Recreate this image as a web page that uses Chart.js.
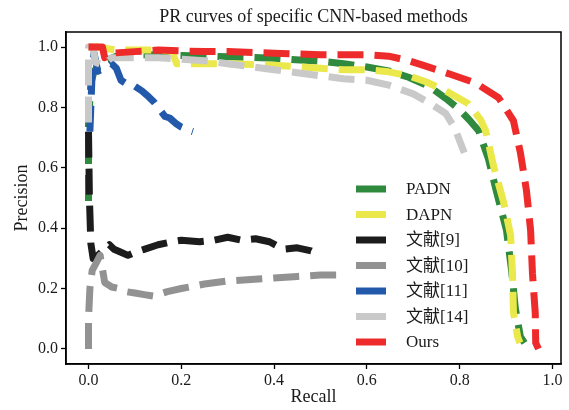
<!DOCTYPE html>
<html>
<head>
<meta charset="utf-8">
<script src="https://cdn.jsdelivr.net/npm/chart.js@4.4.1/dist/chart.umd.min.js"></script>
<style>
html,body{margin:0;padding:0;background:#fff;}
#wrap{width:569px;height:410px;position:relative;}
</style>
</head>
<body>
<div id="wrap"><canvas id="c" width="569" height="410"></canvas></div>
<script>
const chartTitle = "PR curves of specific CNN-based methods";
const seriesNames = ["PADN", "DAPN", "文献[9]", "文献[10]", "文献[11]", "文献[14]", "Ours"];
const xTicks = [0.0, 0.2, 0.4, 0.6, 0.8, 1.0];
const yTicks = [0.0, 0.2, 0.4, 0.6, 0.8, 1.0];

const padnR = [0.0, 0.0, 0.005, 0.012, 0.03, 0.06, 0.1, 0.2, 0.3, 0.4, 0.5, 0.55, 0.6, 0.647, 0.69, 0.733, 0.77, 0.798, 0.82, 0.841, 0.862, 0.88, 0.901, 0.912, 0.92, 0.931, 0.94];
const padnP = [0.49, 0.75, 0.88, 0.92, 0.95, 0.97, 0.975, 0.972, 0.968, 0.963, 0.953, 0.945, 0.934, 0.921, 0.9, 0.871, 0.83, 0.795, 0.76, 0.723, 0.63, 0.518, 0.393, 0.26, 0.135, 0.04, 0.02];

const dapnR = [0.0, 0.02, 0.06, 0.1, 0.15, 0.18, 0.19, 0.22, 0.3, 0.4, 0.5, 0.55, 0.6, 0.647, 0.69, 0.727, 0.77, 0.819, 0.845, 0.856, 0.873, 0.895, 0.91, 0.914, 0.916, 0.925, 0.93];
const dapnP = [1.0, 1.0, 0.99, 0.99, 0.99, 0.985, 0.945, 0.945, 0.945, 0.94, 0.93, 0.925, 0.925, 0.918, 0.905, 0.885, 0.855, 0.812, 0.76, 0.723, 0.607, 0.485, 0.376, 0.244, 0.122, 0.04, 0.02];

const ref9R = [0.0, 0.002, 0.005, 0.01, 0.02, 0.035, 0.045, 0.055, 0.07, 0.085, 0.1, 0.12, 0.15, 0.18, 0.2, 0.24, 0.27, 0.3, 0.33, 0.36, 0.39, 0.42, 0.45, 0.48, 0.5];
const ref9P = [0.72, 0.5, 0.35, 0.3, 0.31, 0.33, 0.345, 0.33, 0.32, 0.31, 0.32, 0.33, 0.345, 0.355, 0.36, 0.355, 0.36, 0.37, 0.36, 0.365, 0.355, 0.33, 0.335, 0.325, 0.31];

const ref10R = [0.0, 0.0, 0.003, 0.008, 0.015, 0.025, 0.035, 0.05, 0.065, 0.08, 0.1, 0.12, 0.14, 0.17, 0.2, 0.25, 0.3, 0.35, 0.4, 0.45, 0.5, 0.55];
const ref10P = [0.0, 0.1, 0.2, 0.26, 0.28, 0.31, 0.22, 0.205, 0.2, 0.19, 0.185, 0.18, 0.175, 0.19, 0.2, 0.215, 0.225, 0.23, 0.235, 0.24, 0.245, 0.245];

const ref11R = [0.003, 0.005, 0.008, 0.012, 0.02, 0.035, 0.05, 0.06, 0.07, 0.085, 0.1, 0.115, 0.13, 0.14, 0.155, 0.165, 0.175, 0.19, 0.2, 0.215, 0.225];
const ref11P = [0.72, 0.8, 0.92, 0.98, 0.92, 0.93, 0.945, 0.93, 0.89, 0.875, 0.87, 0.855, 0.835, 0.82, 0.79, 0.77, 0.765, 0.745, 0.735, 0.725, 0.72];

const ref14R = [0.0, 0.0, 0.0, 0.01, 0.015, 0.03, 0.05, 0.1, 0.15, 0.2, 0.25, 0.3, 0.35, 0.4, 0.45, 0.5, 0.55, 0.6, 0.645, 0.7, 0.74, 0.77, 0.79, 0.8, 0.81];
const ref14P = [0.75, 0.88, 1.0, 1.0, 0.95, 0.94, 0.965, 0.965, 0.965, 0.96, 0.955, 0.945, 0.935, 0.925, 0.915, 0.905, 0.895, 0.89, 0.875, 0.845, 0.81, 0.78, 0.73, 0.69, 0.65];

const oursR = [0.0, 0.03, 0.035, 0.05, 0.1, 0.15, 0.25, 0.3, 0.4, 0.5, 0.6, 0.647, 0.69, 0.727, 0.78, 0.834, 0.884, 0.916, 0.931, 0.944, 0.953, 0.957, 0.963, 0.964, 0.97];
const oursP = [1.0, 1.0, 0.965, 0.98, 0.985, 0.99, 0.985, 0.985, 0.98, 0.975, 0.975, 0.97, 0.955, 0.937, 0.91, 0.881, 0.832, 0.756, 0.65, 0.525, 0.393, 0.25, 0.119, 0.02, 0.0];

const allR = [padnR, dapnR, ref9R, ref10R, ref11R, ref14R, oursR];
const allP = [padnP, dapnP, ref9P, ref10P, ref11P, ref14P, oursP];
const colors = ["#2f8a3e", "#ebe84c", "#1c1c1c", "#929292", "#2259ab", "#c9c9c9", "#ee2b2b"];

const SERIF = "'Liberation Serif', 'Times New Roman', 'Noto Sans CJK SC', serif";

const datasets = seriesNames.map((name, i) => ({
  label: name,
  data: allR[i].map((r, k) => ({x: r, y: allP[i][k]})),
  borderColor: colors[i],
  backgroundColor: colors[i],
  borderWidth: 7,
  borderDash: [26, 11],
  borderCapStyle: 'butt',
  borderJoinStyle: 'round',
  pointRadius: 0,
  tension: 0,
  fill: false,
  order: seriesNames.length - i
}));

const boxPlugin = {
  id: 'box',
  afterDraw(chart) {
    const {ctx, chartArea: a} = chart;
    ctx.save();
    ctx.strokeStyle = '#000';
    ctx.lineWidth = 1.5;
    ctx.strokeRect(a.left, a.top, a.right - a.left, a.bottom - a.top);
    ctx.fillStyle = '#1a1a1a';
    ctx.font = "18px " + SERIF;
    ctx.textAlign = 'center';
    ctx.textBaseline = 'middle';
    ctx.fillText(chartTitle, (a.left + a.right) / 2, 17);
    ctx.restore();
  }
};

const legendPlugin = {
  id: 'innerLegend',
  afterDatasetsDraw(chart) {
    const ctx = chart.ctx;
    ctx.save();
    const x0 = 356, x1 = 386, tx = 406, y0 = 189, dy = 25.5;
    chart.data.datasets.forEach((ds, i) => {
      const y = y0 + i * dy;
      ctx.strokeStyle = ds.borderColor;
      ctx.lineWidth = 7;
      ctx.lineCap = 'butt';
      ctx.beginPath();
      ctx.moveTo(x0, y);
      ctx.lineTo(x1, y);
      ctx.stroke();
      ctx.fillStyle = '#1a1a1a';
      ctx.font = "17px " + SERIF;
      ctx.textBaseline = 'middle';
      ctx.textAlign = 'left';
      ctx.fillText(ds.label, tx, y + 1);
    });
    ctx.restore();
  }
};

new Chart(document.getElementById('c'), {
  type: 'line',
  data: {datasets},
  options: {
    responsive: false,
    animation: false,
    events: [],
    layout: {padding: {left: 0, right: 8, top: 32, bottom: 0}},
    plugins: {
      legend: {display: false},
      tooltip: {enabled: false},
      title: {display: false}
    },
    scales: {
      x: {
        type: 'linear',
        min: -0.0485,
        max: 1.0185,
        afterBuildTicks(s) { s.ticks = xTicks.map(v => ({value: v})); },
        afterFit(s) { s.height = 46; },
        grid: {display: true, drawOnChartArea: false, drawTicks: true, tickLength: 5, tickColor: '#000', tickWidth: 1.3},
        border: {display: true, color: '#000', width: 1.5},
        ticks: {color: '#1a1a1a', font: {family: SERIF, size: 16}, padding: 2, maxRotation: 0,
                callback: v => Number(v).toFixed(1)},
        title: {display: true, text: 'Recall', color: '#1a1a1a', font: {family: SERIF, size: 18, lineHeight: 1.2}, padding: {top: 0, bottom: 2}}
      },
      y: {
        type: 'linear',
        min: -0.05,
        max: 1.05,
        afterBuildTicks(s) { s.ticks = yTicks.map(v => ({value: v})); },
        afterFit(s) { s.width = 66; },
        grid: {display: true, drawOnChartArea: false, drawTicks: true, tickLength: 5, tickColor: '#000', tickWidth: 1.3},
        border: {display: true, color: '#000', width: 1.5},
        ticks: {color: '#1a1a1a', font: {family: SERIF, size: 16}, padding: 3,
                callback: v => Number(v).toFixed(1)},
        title: {display: true, text: 'Precision', color: '#1a1a1a', font: {family: SERIF, size: 18, lineHeight: 1.2}, padding: {top: 11, bottom: 0}}
      }
    }
  },
  plugins: [boxPlugin, legendPlugin]
});
</script>
</body>
</html>
